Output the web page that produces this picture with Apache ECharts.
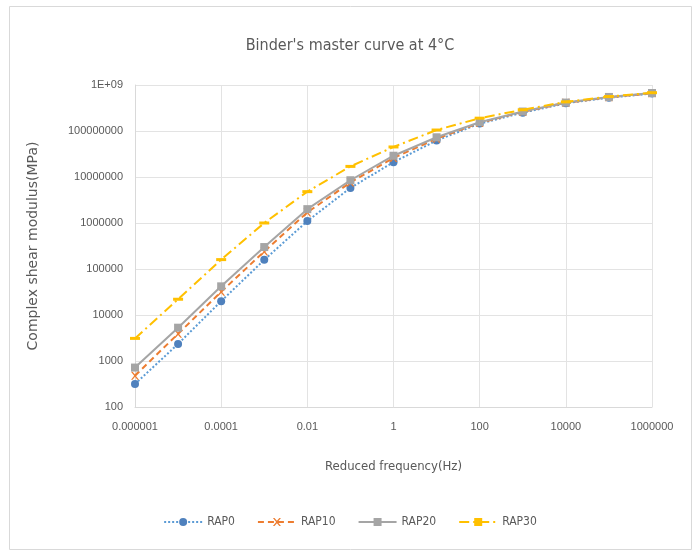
<!DOCTYPE html>
<html>
<head>
<meta charset="utf-8">
<script src="https://cdn.jsdelivr.net/npm/echarts@6/dist/echarts.min.js"></script>
<style>
html,body{margin:0;padding:0;background:#fff;}
#c{width:700px;height:552px;}
</style>
</head>
<body>
<div id="c"></div>
<script>
const freq = [1e-6, 1e-5, 1e-4, 1e-3, 1e-2, 1e-1, 1, 10, 100, 1e3, 1e4, 1e5, 1e6];
const rap0  = [316, 2350, 20000, 158000, 1.1e6, 5.8e6, 2.1e7, 6.2e7, 1.45e8, 2.5e8, 4.0e8, 5.3e8, 6.5e8];
const rap10 = [480, 3900, 32000, 240000, 1.7e6, 7.6e6, 2.6e7, 6.8e7, 1.5e8, 2.6e8, 4.1e8, 5.4e8, 6.6e8];
const rap20 = [720, 5300, 42000, 300000, 2.0e6, 8.5e6, 2.9e7, 7.3e7, 1.55e8, 2.65e8, 4.15e8, 5.5e8, 6.7e8];
const rap30 = [3100, 22000, 160000, 1.0e6, 4.8e6, 1.7e7, 4.5e7, 1.05e8, 1.9e8, 2.9e8, 4.3e8, 5.6e8, 6.8e8];
const seriesNames = ['RAP0', 'RAP10', 'RAP20', 'RAP30'];
const xTickLabels = ['0.000001', '0.0001', '0.01', '1', '100', '10000', '1000000'];
const yTickLabels = ['100', '1000', '10000', '100000', '1000000', '10000000', '100000000', '1E+09'];

const pairs = arr => freq.map((f, i) => [f, arr[i]]);
const narrow = "'DejaVu Sans Condensed', 'Liberation Sans', sans-serif";
const plain = "'Liberation Sans', sans-serif";
const txt = '#595959';

const chart = echarts.init(document.getElementById('c'), null, {renderer: 'canvas'});
chart.setOption({
  backgroundColor: '#fff',
  animation: false,
  graphic: [{
    type: 'rect', silent: true, z: -10,
    shape: {x: 9.5, y: 6.5, width: 682, height: 543},
    style: {fill: 'none', stroke: '#d9d9d9', lineWidth: 1}
  }],
  title: {
    text: "Binder's master curve at 4°C",
    left: 'center', top: 33,
    textStyle: {fontFamily: narrow, fontSize: 16, fontWeight: 'normal', color: txt}
  },
  legend: {
    bottom: 19, left: 'center',
    itemWidth: 38, itemHeight: 10, itemGap: 22,
    textStyle: {fontFamily: narrow, fontSize: 12, color: txt},
    data: seriesNames
  },
  grid: {left: 135, right: 48, top: 85, bottom: 145},
  xAxis: {
    type: 'log', logBase: 100, min: 1e-6, max: 1e6,
    name: 'Reduced frequency(Hz)', nameLocation: 'middle', nameGap: 53,
    nameTextStyle: {fontFamily: narrow, fontSize: 13, color: txt},
    axisLine: {show: true, lineStyle: {color: '#d9d9d9'}},
    axisTick: {show: false},
    splitLine: {show: true, lineStyle: {color: '#e3e3e3'}},
    minorTick: {show: false},
    axisLabel: {
      fontFamily: plain, fontSize: 11, color: txt, margin: 14,
      formatter: v => xTickLabels[Math.round(Math.log10(v) / 2) + 3]
    }
  },
  yAxis: {
    type: 'log', logBase: 10, min: 100, max: 1e9,
    name: 'Complex shear modulus(MPa)', nameLocation: 'middle', nameGap: 95,
    nameTextStyle: {fontFamily: "'DejaVu Sans', sans-serif", fontSize: 14, color: txt},
    axisLine: {show: true, lineStyle: {color: '#d9d9d9'}},
    axisTick: {show: false},
    splitLine: {show: true, lineStyle: {color: '#e3e3e3'}},
    axisLabel: {
      fontFamily: plain, fontSize: 11, color: txt, margin: 12,
      formatter: v => yTickLabels[Math.round(Math.log10(v)) - 2]
    }
  },
  series: [
    {
      name: 'RAP0', type: 'line', data: pairs(rap0), z: 2,
      symbol: 'circle', symbolSize: 8,
      itemStyle: {color: '#4f81bd'},
      lineStyle: {color: '#5b9bd5', width: 2, type: 'dotted'}
    },
    {
      name: 'RAP10', type: 'line', data: pairs(rap10), z: 3,
      symbol: 'path://M0,0 L2,0 L5,3.5 L8,0 L10,0 L6,5 L10,10 L8,10 L5,6.5 L2,10 L0,10 L4,5 Z',
      symbolSize: 8,
      itemStyle: {color: '#ed7d31'},
      lineStyle: {color: '#ed7d31', width: 2, type: [6, 4]}
    },
    {
      name: 'RAP20', type: 'line', data: pairs(rap20), z: 4,
      symbol: 'rect', symbolSize: 8,
      itemStyle: {color: '#a5a5a5'},
      lineStyle: {color: '#a5a5a5', width: 2, type: 'solid'}
    },
    {
      name: 'RAP30', type: 'line', data: pairs(rap30), z: 5,
      symbol: 'rect', symbolSize: [10, 3],
      itemStyle: {color: '#ffc000'},
      lineStyle: {color: '#ffc000', width: 2, type: [10, 4, 2, 4]}
    }
  ]
});
</script>
</body>
</html>
